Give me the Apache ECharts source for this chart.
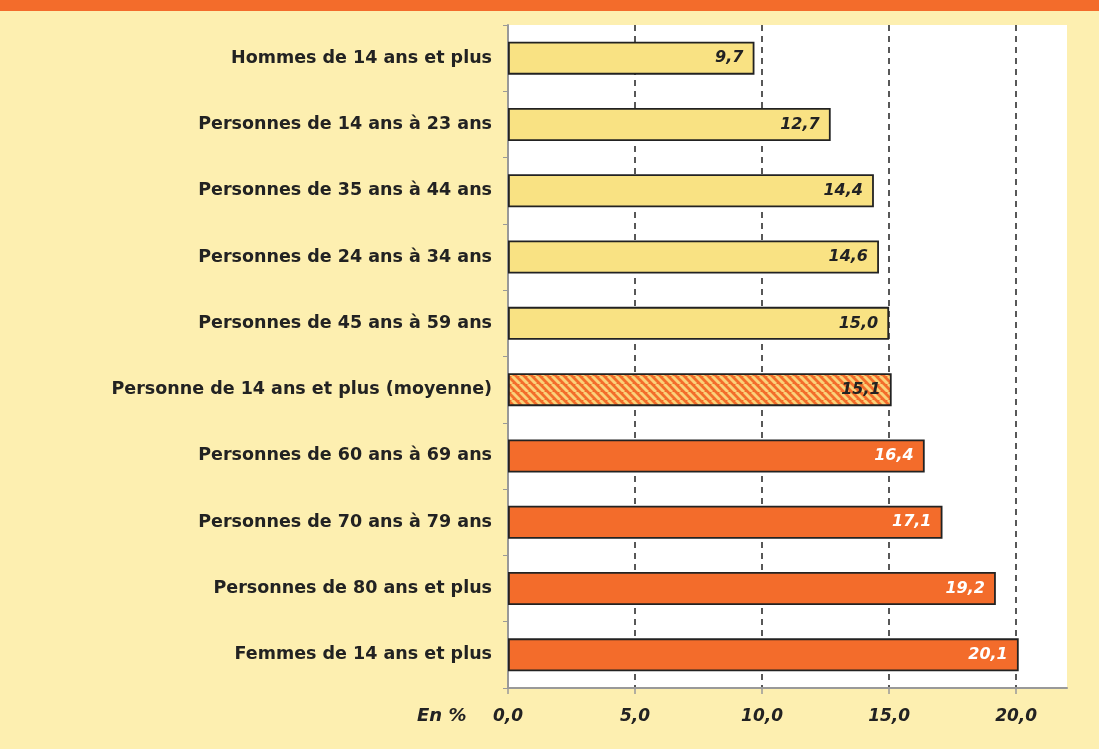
<!DOCTYPE html>
<html>
<head>
<meta charset="utf-8">
<script src="https://cdn.jsdelivr.net/npm/echarts@6/dist/echarts.min.js"></script>
<style>
  html, body { margin: 0; padding: 0; background: #FDEFB0; }
  #chart { width: 1099px; height: 749px; }
</style>
</head>
<body>
<div id="chart"></div>
<script>
// Groups, from top to bottom
const categories = [
  'Hommes de 14 ans et plus',
  'Personnes de 14 ans à 23 ans',
  'Personnes de 35 ans à 44 ans',
  'Personnes de 24 ans à 34 ans',
  'Personnes de 45 ans à 59 ans',
  'Personne de 14 ans et plus (moyenne)',
  'Personnes de 60 ans à 69 ans',
  'Personnes de 70 ans à 79 ans',
  'Personnes de 80 ans et plus',
  'Femmes de 14 ans et plus'
];
// Share, in %
const values = [9.7, 12.7, 14.4, 14.6, 15.0, 15.1, 16.4, 17.1, 19.2, 20.1];
// Bar style per group: 'low' (below average), 'avg', 'high' (above average)
const kinds = ['low', 'low', 'low', 'low', 'low', 'avg', 'high', 'high', 'high', 'high'];
const xTicks = [0, 5, 10, 15, 20];

const YELLOW = '#F9E283';
const ORANGE = '#F36C2B';

// Hatched fill for the average bar
function hatch() {
  const c = document.createElement('canvas');
  const s = 8;
  c.width = s; c.height = s;
  const g = c.getContext('2d');
  g.fillStyle = ORANGE;
  g.fillRect(0, 0, s, s);
  g.strokeStyle = '#FAD27A';
  g.lineWidth = 3;
  for (let k = -1; k <= 1; k++) {
    g.beginPath();
    g.moveTo(k * s, 0);
    g.lineTo(k * s + s, s);
    g.stroke();
  }
  return c;
}
const hatchCanvas = hatch();

const fmt = v => v.toFixed(1).replace('.', ',');

const data = values.map((v, i) => {
  const k = kinds[i];
  return {
    value: v,
    itemStyle: {
      color: k === 'low' ? YELLOW : (k === 'high' ? ORANGE : { image: hatchCanvas, repeat: 'repeat' })
    },
    label: { color: k === 'high' ? '#FFFFFF' : '#222222' }
  };
});

const chart = echarts.init(document.getElementById('chart'), null, { renderer: 'canvas' });
chart.setOption({
  backgroundColor: '#FDEFB0',
  animation: false,
  graphic: [
    { type: 'rect', shape: { x: 0, y: 0, width: 1099, height: 11 }, style: { fill: '#F36C2B' }, z: 10 },
    { type: 'text', left: 417, top: 707, style: { text: 'En %', font: 'italic bold 18px "DejaVu Sans"', fill: '#222' } }
  ],
  grid: {
    left: 508, right: 32, top: 25, bottom: 61,
    show: true, backgroundColor: '#FFFFFF', borderWidth: 0
  },
  xAxis: {
    type: 'value',
    min: 0, max: 22, interval: 5,
    axisLine: { show: true, lineStyle: { color: '#999999', width: 2 } },
    axisTick: { show: true, length: 6, customValues: xTicks, lineStyle: { color: '#999999', width: 1.5 } },
    axisLabel: {
      margin: 20,
      color: '#222222',
      customValues: xTicks,
      fontFamily: 'DejaVu Sans', fontWeight: 'bold', fontStyle: 'italic', fontSize: 17,
      formatter: v => fmt(v)
    },
    splitLine: { show: true, lineStyle: { color: '#222222', width: 1.5, type: [6, 5] } }
  },
  yAxis: {
    type: 'category',
    data: categories,
    inverse: true,
    axisLine: { show: true, lineStyle: { color: '#999999', width: 2 } },
    axisTick: { show: true, length: 5, lineStyle: { color: '#999999', width: 1 } },
    axisLabel: {
      margin: 16,
      color: '#222222',
      fontFamily: 'DejaVu Sans', fontWeight: 'bold', fontSize: 17.5
    }
  },
  series: [
    {
      type: 'bar',
      data: data,
      barWidth: 33,
      itemStyle: { borderColor: '#222222', borderWidth: 1.8 },
      label: {
        show: true,
        position: 'insideRight',
        distance: 11,
        fontFamily: 'DejaVu Sans', fontWeight: 'bold', fontStyle: 'italic', fontSize: 16,
        formatter: p => fmt(p.value)
      }
    }
  ]
});
</script>
</body>
</html>
